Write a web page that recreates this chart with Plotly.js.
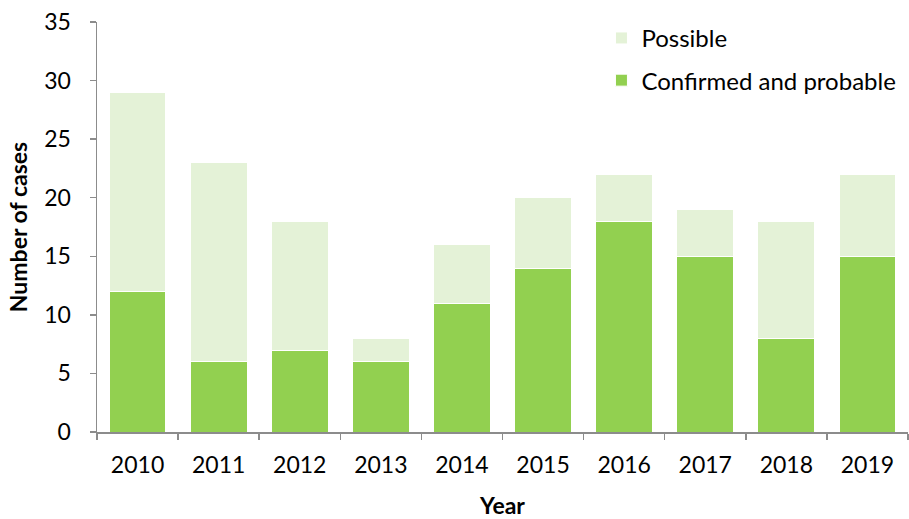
<!DOCTYPE html>
<html><head><meta charset="utf-8">
<script src="https://cdn.plot.ly/plotly-3.0.1.min.js"></script>
<style>html,body{margin:0;padding:0;background:#fff}</style>
</head><body><div id="chart" style="width:909px;height:519px"></div>
<script>
var years = ['2010','2011','2012','2013','2014','2015','2016','2017','2018','2019'];
var confirmedProbable = [12, 6, 7, 6, 11, 14, 18, 15, 8, 15];
var possible = [17, 17, 11, 2, 5, 6, 4, 4, 10, 7];
var yTicks = [0, 5, 10, 15, 20, 25, 30, 35];

var FONT = 'Lato, "Open Sans", sans-serif';
var traces = [
  {type:'bar', name:'Confirmed and probable', x:years, y:confirmedProbable, legendgroup:'a', legendrank:2,
   marker:{color:'#92d050', line:{color:'#ffffff', width:1}}, hoverinfo:'x+y+name'},
  {type:'bar', name:'Possible', x:years, y:possible, legendgroup:'b', legendrank:1,
   marker:{color:'#e4f2d7', line:{color:'#ffffff', width:1}}, hoverinfo:'x+y+name'}
];
var layout = {
  width:909, height:519,
  margin:{l:97, r:1, t:22, b:87},
  barmode:'stack', bargap:0.3,
  paper_bgcolor:'#fff', plot_bgcolor:'#fff',
  font:{family:FONT, size:20, color:'#000'},
  showlegend:true,
  legend:{x:0.622, y:1.015, xanchor:'left', yanchor:'top', traceorder:'grouped', tracegroupgap:8,
          font:{family:FONT, size:24, color:'#000'}, bgcolor:'rgba(0,0,0,0)'},
  xaxis:{type:'category', showline:true, linecolor:'#8c8c8c', linewidth:1.5, ticks:'outside', tickson:'boundaries',
         ticklen:6, tickcolor:'#8c8c8c', tickwidth:1.5, showgrid:false, ticklabelstandoff:12,
         tickfont:{family:FONT, size:23}, title:{text:'<b>Year</b>', font:{family:FONT, size:23}, standoff:22}},
  yaxis:{range:[0,35], tickvals:yTicks, showline:true, linecolor:'#8c8c8c', linewidth:1.5, ticks:'outside',
         ticklen:6, tickcolor:'#8c8c8c', tickwidth:1.5, showgrid:false, zeroline:false, ticklabelstandoff:14,
         tickfont:{family:FONT, size:23}, title:{text:'<b>Number of cases</b>', font:{family:FONT, size:23}, standoff:10}}
};
Plotly.newPlot('chart', traces, layout, {displayModeBar:false, staticPlot:true});
</script></body></html>
